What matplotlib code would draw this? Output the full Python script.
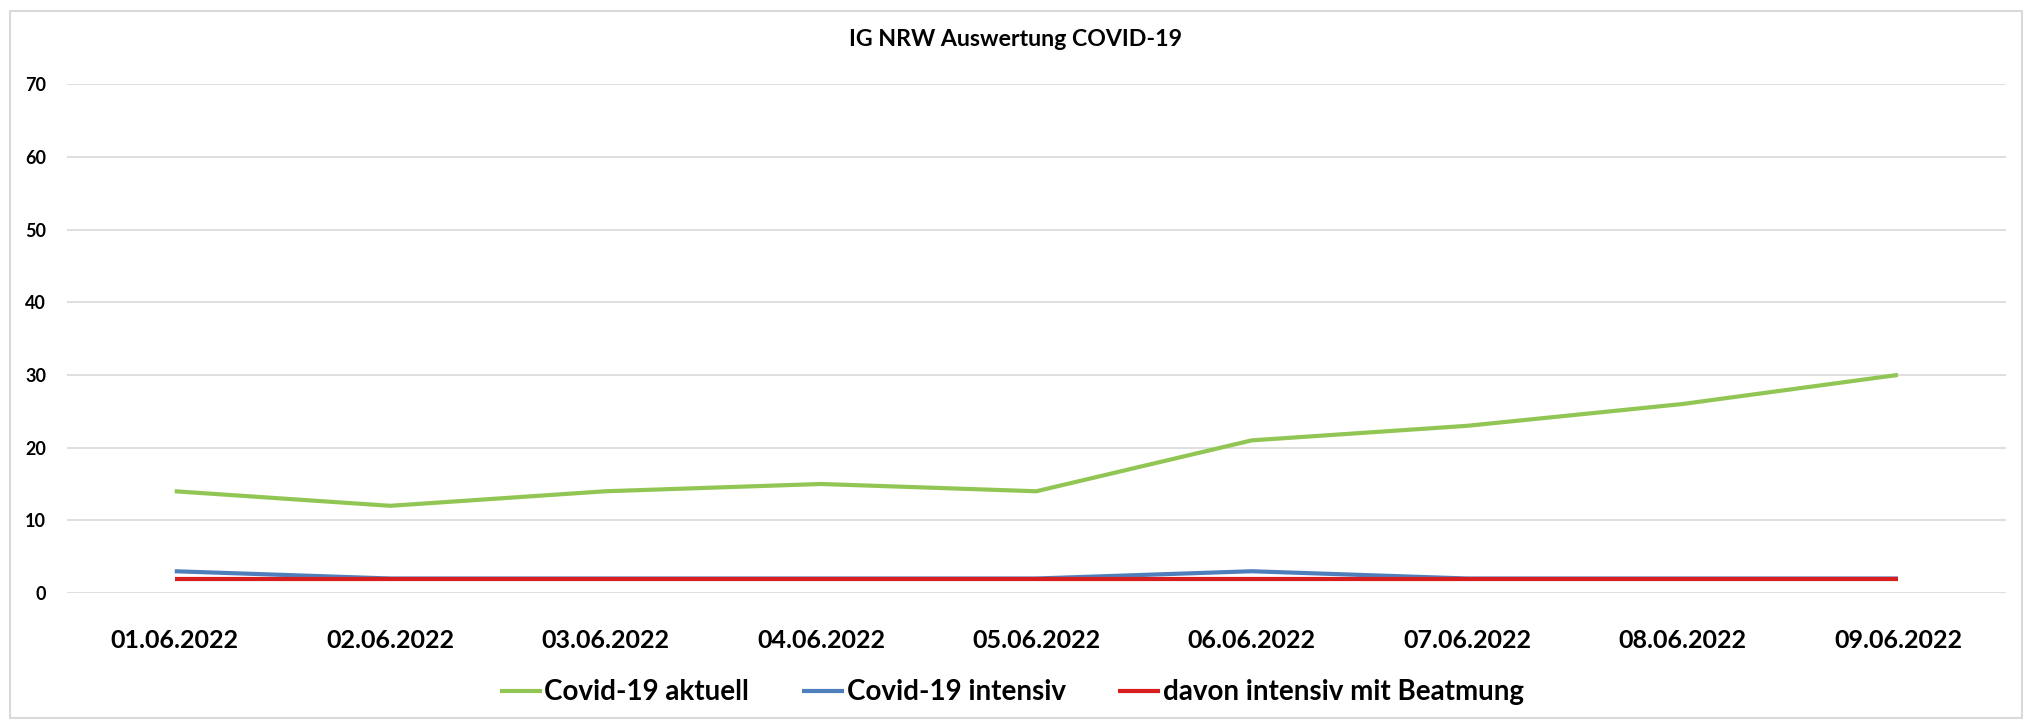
import matplotlib
matplotlib.use("Agg")
import matplotlib.pyplot as plt
from matplotlib.patches import Rectangle

# Daten
dates = ["01.06.2022", "02.06.2022", "03.06.2022", "04.06.2022", "05.06.2022",
         "06.06.2022", "07.06.2022", "08.06.2022", "09.06.2022"]
aktuell = [14, 12, 14, 15, 14, 21, 23, 26, 30]
intensiv = [3, 2, 2, 2, 2, 3, 2, 2, 2]
beatmung = [2, 2, 2, 2, 2, 2, 2, 2, 2]
yticks = [0, 10, 20, 30, 40, 50, 60, 70]

plt.rcParams['font.family'] = ['Lato', 'DejaVu Sans']

fig = plt.figure(figsize=(20.32, 7.25), dpi=100)
ax = fig.add_axes([0.033, 0.182, 0.954, 0.702])

x = list(range(len(dates)))
ax.plot(x, aktuell, color="#92C654", lw=3, label="Covid-19 aktuell", solid_capstyle="butt")
ax.plot(x, intensiv, color="#4F7FBB", lw=3, label="Covid-19 intensiv", solid_capstyle="butt")
ax.plot(x, beatmung, color="#D81E1E", lw=3, label="davon intensiv mit Beatmung", solid_capstyle="butt")

ax.set_xlim(-0.5, len(dates) - 0.5)
ax.set_ylim(0, 70)
ax.set_yticks(yticks)
ax.set_xticks(x)
ax.set_xticklabels(dates, fontsize=18, fontweight="bold")
ax.tick_params(axis="x", length=0, pad=26)
ax.tick_params(axis="y", length=0, pad=15, labelsize=13)
for lab in ax.get_yticklabels():
    lab.set_fontweight("bold")
ax.grid(axis="y", color="#D9D9D9", lw=1.2)
ax.set_axisbelow(True)
for s in ax.spines.values():
    s.set_visible(False)

fig.text(0.5, 0.946, "IG NRW Auswertung COVID-19", ha="center", va="center",
         fontsize=16.7, fontweight="bold")

leg = fig.legend(loc="center", bbox_to_anchor=(0.498, 0.045), ncol=3, frameon=False,
                 handlelength=1.5, handletextpad=0.1, columnspacing=1.9,
                 prop={"size": 20, "weight": "bold"})

fig.patches.append(Rectangle((0.005, 0.01), 0.99, 0.975, transform=fig.transFigure,
                             fill=False, edgecolor="#D9D9D9", lw=1.5))

fig.savefig("out.png", dpi=100)
